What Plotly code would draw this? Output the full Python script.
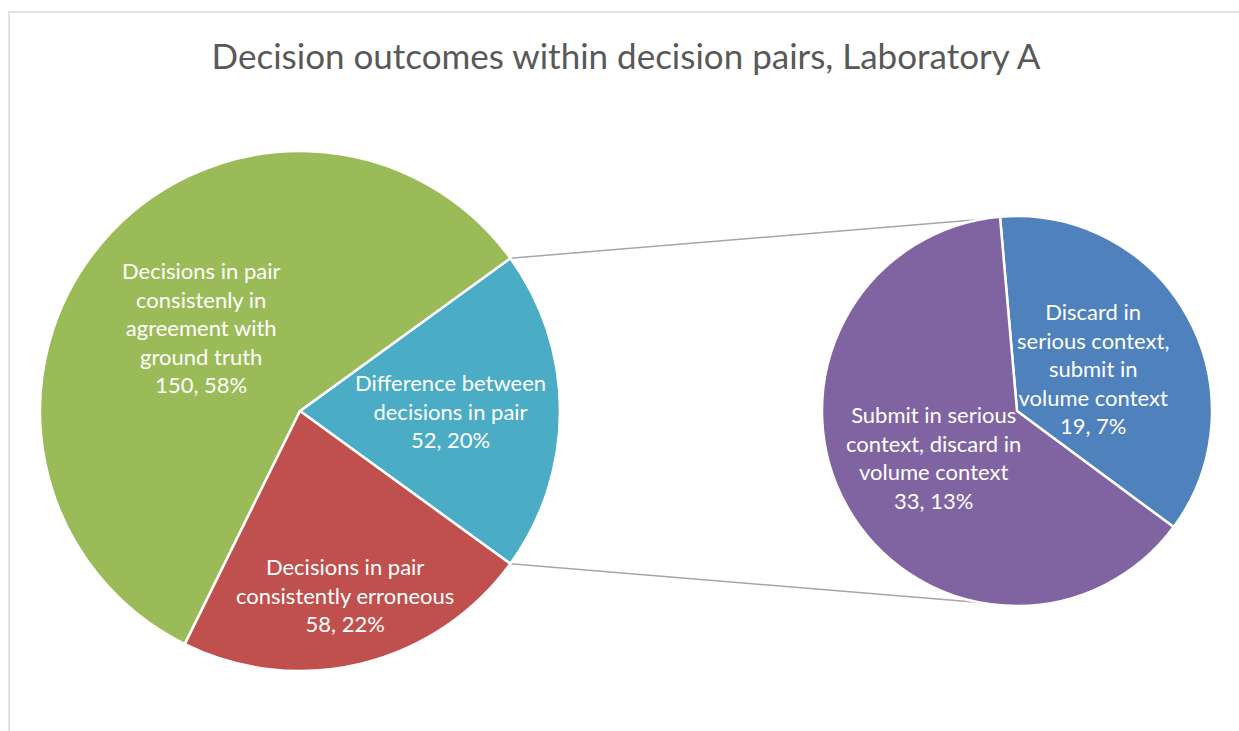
import math
import plotly.graph_objects as go

W, H = 1239, 731

# main pie
main_labels = [
    "Difference between<br>decisions in pair",
    "Decisions in pair<br>consistenly in<br>agreement with<br>ground truth",
    "Decisions in pair<br>consistently erroneous",
]
main_values = [52, 150, 58]
main_colors = ["#4BACC6", "#9BBB59", "#C0504D"]

# breakdown of "Difference between decisions in pair"
sub_labels = [
    "Discard in<br>serious context,<br>submit in<br>volume context",
    "Submit in serious<br>context, discard in<br>volume context",
]
sub_values = [19, 33]
sub_colors = ["#4F81BD", "#8064A2"]

total = sum(main_values)
FONT = "Lato, 'Open Sans', sans-serif"
LABEL_SIZE = 22

def make_text(labels, values):
    return [f"{l}<br>{v}, {round(100 * v / total)}%" for l, v in zip(labels, values)]

# pie placement in pixels (center x, center y, radius)
main_c = (300, 411, 260)
sub_c = (1017, 411, 195)

# how far out along each slice's mid angle the label sits (fraction of radius)
main_label_r = [0.58, 0.50, 0.73]
sub_label_r = [0.445, 0.49]

def domain(c):
    cx, cy, r = c
    return dict(x=[(cx - r) / W, (cx + r) / W], y=[1 - (cy + r) / H, 1 - (cy - r) / H])

# the split slice is centred on 3 o'clock
half = 0.5 * 360 * main_values[0] / total
sub_start = 95  # degrees, where the first sub slice starts (math angle)

fig = go.Figure()
fig.add_trace(go.Pie(
    values=main_values,
    textinfo="none",
    sort=False,
    direction="counterclockwise",
    rotation=90 - half,
    marker=dict(colors=main_colors, line=dict(color="white", width=2.5)),
    domain=domain(main_c),
    hoverinfo="skip",
    showlegend=False,
))
fig.add_trace(go.Pie(
    values=sub_values,
    textinfo="none",
    sort=False,
    direction="clockwise",
    rotation=90 - sub_start,
    marker=dict(colors=sub_colors, line=dict(color="white", width=2.5)),
    domain=domain(sub_c),
    hoverinfo="skip",
    showlegend=False,
))

# slice labels at each slice's mid angle
def slice_mids(values, start, sign, tot):
    mids = []
    a = start
    for v in values:
        span = 360 * v / tot
        mids.append(a + sign * span / 2)
        a += sign * span
    return mids

annotations = []
groups = [
    (main_c, make_text(main_labels, main_values), slice_mids(main_values, -half, 1, total), main_label_r),
    (sub_c, make_text(sub_labels, sub_values), slice_mids(sub_values, sub_start, -1, sum(sub_values)), sub_label_r),
]
for c, texts, mids, fracs in groups:
    for t, m, f in zip(texts, mids, fracs):
        x = c[0] + f * c[2] * math.cos(math.radians(m))
        y = c[1] - f * c[2] * math.sin(math.radians(m))
        annotations.append(dict(text=t, x=x / W, y=1 - y / H, xref="paper", yref="paper",
                                xanchor="center", yanchor="middle", showarrow=False,
                                font=dict(color="white", size=LABEL_SIZE, family=FONT)))

# connector lines between the two pies
conn_angle = 101
shapes = []
for sgn in (1, -1):
    a1 = math.radians(sgn * half)
    a2 = math.radians(sgn * conn_angle)
    x0 = main_c[0] + main_c[2] * math.cos(a1)
    y0 = main_c[1] - main_c[2] * math.sin(a1)
    x1 = sub_c[0] + sub_c[2] * math.cos(a2)
    y1 = sub_c[1] - sub_c[2] * math.sin(a2)
    shapes.append(dict(type="line", xref="paper", yref="paper",
                       x0=x0 / W, y0=1 - y0 / H, x1=x1 / W, y1=1 - y1 / H,
                       line=dict(color="#A6A6A6", width=1.5), layer="below"))

# chart frame (cropped at right/bottom)
shapes.append(dict(type="rect", xref="paper", yref="paper",
                   x0=9 / W, y0=-0.05, x1=1.05, y1=1 - 12 / H,
                   line=dict(color="#D9D9D9", width=1.5), layer="below"))

fig.update_layout(
    width=W, height=H,
    margin=dict(l=0, r=0, t=0, b=0),
    paper_bgcolor="white",
    font=dict(family=FONT),
    title=dict(text="Decision outcomes within decision pairs, Laboratory A",
               x=626 / W, xanchor="center", y=1 - 57 / H, yanchor="middle",
               font=dict(size=35, color="#595959", family=FONT)),
    annotations=annotations,
    shapes=shapes,
)

# drop the page's default body margin so the figure sits at the window origin
fig.write_html("out.html", config={"displayModeBar": False},
               post_script="document.body.style.margin='0';")
